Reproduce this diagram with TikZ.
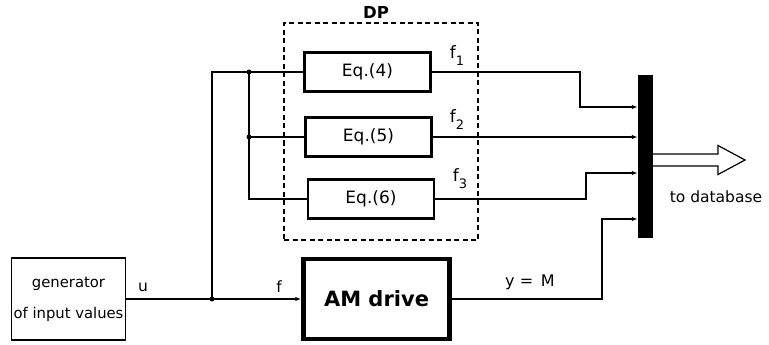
\documentclass[tikz,border=0pt]{standalone}
\usepackage{fontspec}
\setmainfont{DejaVu Sans}
\usetikzlibrary{arrows.meta}
\begin{document}
\begin{tikzpicture}[x=1pt,y=-1pt,
  lbl/.style={inner sep=0pt, font=\fontsize{15.5}{18}\selectfont},
  eqbox/.style={draw, line width=2.8pt, minimum width=126pt, minimum height=38.5pt, inner sep=0pt, font=\fontsize{17}{20}\selectfont},
  wire/.style={line width=1.25pt},
  arr/.style={wire, -{Latex[length=6pt,width=4.5pt]}},
  jdot/.style={circle, fill, inner sep=0pt, minimum size=5pt},
  subl/.style={lbl, font=\fontsize{17}{18}\selectfont}
]
\useasboundingbox (0,0) rectangle (769,345);

% dashed DP frame
\node[draw, dash pattern=on 5pt off 3.5pt, line width=1.2pt, minimum width=194pt, minimum height=217pt, inner sep=0pt] (dp) at (381,131.5) {};
\node[inner sep=0pt, font=\fontsize{16.5}{18}\selectfont\bfseries] (dplbl) at (376,12.5) {DP};

% blocks
\node[draw, line width=1.3pt, minimum width=114pt, minimum height=82pt, align=center, inner sep=0pt, font=\fontsize{14.8}{31}\selectfont] (gen) at (68.5,299) {generator\\of input values};
\node[draw, line width=4.5pt, minimum width=146pt, minimum height=80pt, inner sep=0pt, font=\fontsize{21}{26}\selectfont\bfseries] (am) at (376.5,299) {AM drive};
\node[eqbox] (eq4) at (367.5,72) {Eq.(4)};
\node[eqbox] (eq5) at (368.5,137) {Eq.(5)};
\node[eqbox] (eq6) at (371,199) {Eq.(6)};

% collector bar
\node[fill, minimum width=15pt, minimum height=163pt, inner sep=0pt] (bar) at (645.5,156.5) {};

% junctions and bends
\coordinate (j1) at (212,299);
\coordinate (j2) at (249,72);
\coordinate (j3) at (249,137);
\coordinate (k1) at (580,107);
\coordinate (k3) at (586,173);
\coordinate (k4) at (602,219);

% input wiring
\draw[arr] (gen.east) -- (am.west);
\draw[wire] (j1) |- (eq4.west);
\draw[wire] (j2) |- (eq6.west);
\draw[wire] (j3) -- (eq5.west);
\node[jdot] (d1) at (j1) {};
\node[jdot] (d2) at (j2) {};
\node[jdot] (d3) at (j3) {};

% outputs to bar
\draw[arr] (eq4.east) -- (eq4.east -| k1) -- (k1) -- (k1 -| bar.west);
\draw[arr] (eq5.east) -- (eq5.east -| bar.west);
\draw[arr] (eq6.east) -- (eq6.east -| k3) -- (k3) -- (k3 -| bar.west);
\draw[arr] (am.east) -- (am.east -| k4) -- (k4) -- (k4 -| bar.west);

% hollow output arrow
\draw[line width=1.2pt, fill=white, line join=miter] (653,154) -- (718,154) -- (718,145.5) -- (745,160) -- (718,174.5) -- (718,166) -- (653,166);

% labels
\node[lbl] (lu) at (143,287) {u};
\node[lbl] (lf) at (279,287) {f};
\node[subl] (lf1) at (457,56) {f\raisebox{-7pt}{\fontsize{13}{13}\selectfont 1}};
\node[subl] (lf2) at (457,120) {f\raisebox{-7pt}{\fontsize{13}{13}\selectfont 2}};
\node[subl] (lf3) at (460,179) {f\raisebox{-7pt}{\fontsize{13}{13}\selectfont 3}};
\node[lbl, font=\fontsize{16}{18}\selectfont] (ly) at (530,282) {y = \,M};
\node[lbl, font=\fontsize{15.5}{18}\selectfont] (ldb) at (716,197) {to database};
\end{tikzpicture}
\end{document}
